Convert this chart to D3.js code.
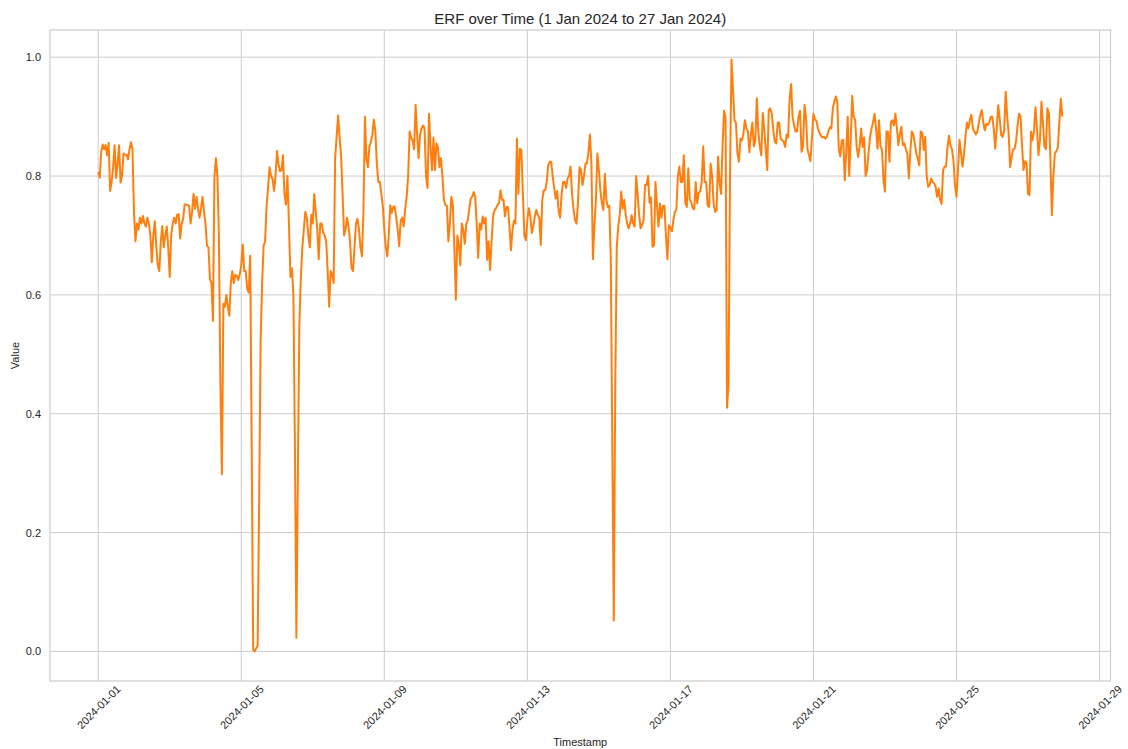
<!DOCTYPE html>
<html>
<head>
<meta charset="utf-8">
<script src="https://cdn.jsdelivr.net/npm/d3@7"></script>
<style>
  body { margin: 0; background: #fff; }
  svg { display: block; font-family: Arial, "Liberation Sans", sans-serif; }
  .gridline { stroke: #cccccc; stroke-width: 1; }
  .axis text { fill: #262626; font-size: 11px; }
</style>
</head>
<body>
<svg id="chart" width="1128" height="749"></svg>
<script>
// hourly ERF readings, one array per day (00:00 .. 23:00)
var day01 = [0.807, 0.797, 0.84, 0.853, 0.845, 0.852, 0.835, 0.856, 0.775, 0.79, 0.815, 0.852, 0.797, 0.82, 0.852, 0.789, 0.80, 0.838, 0.836, 0.836, 0.828, 0.845, 0.857, 0.845];
var day02 = [0.74, 0.69, 0.72, 0.71, 0.73, 0.72, 0.733, 0.72, 0.715, 0.73, 0.72, 0.70, 0.655, 0.70, 0.724, 0.68, 0.65, 0.64, 0.69, 0.716, 0.68, 0.70, 0.715, 0.68];
var day03 = [0.63, 0.70, 0.72, 0.73, 0.72, 0.735, 0.736, 0.695, 0.72, 0.728, 0.752, 0.752, 0.751, 0.75, 0.72, 0.74, 0.77, 0.745, 0.765, 0.745, 0.73, 0.745, 0.765, 0.74];
var day04 = [0.72, 0.683, 0.68, 0.626, 0.62, 0.556, 0.80, 0.83, 0.80, 0.70, 0.45, 0.298, 0.585, 0.58, 0.60, 0.58, 0.565, 0.62, 0.64, 0.62, 0.634, 0.632, 0.625, 0.635];
var day05 = [0.65, 0.685, 0.64, 0.64, 0.61, 0.604, 0.666, 0.35, 0.003, 0.0, 0.005, 0.01, 0.25, 0.52, 0.62, 0.682, 0.69, 0.75, 0.78, 0.815, 0.80, 0.795, 0.775, 0.80];
var day06 = [0.842, 0.82, 0.808, 0.81, 0.835, 0.77, 0.752, 0.80, 0.72, 0.63, 0.645, 0.6, 0.35, 0.023, 0.3, 0.55, 0.63, 0.68, 0.71, 0.74, 0.73, 0.70, 0.68, 0.735];
var day07 = [0.72, 0.77, 0.74, 0.71, 0.66, 0.72, 0.72, 0.705, 0.70, 0.69, 0.64, 0.58, 0.64, 0.635, 0.62, 0.83, 0.866, 0.902, 0.865, 0.835, 0.77, 0.70, 0.71, 0.73];
var day08 = [0.715, 0.69, 0.645, 0.64, 0.68, 0.72, 0.728, 0.71, 0.68, 0.665, 0.74, 0.90, 0.83, 0.815, 0.85, 0.857, 0.87, 0.895, 0.875, 0.82, 0.79, 0.79, 0.77, 0.75];
var day09 = [0.71, 0.68, 0.665, 0.70, 0.751, 0.738, 0.748, 0.749, 0.73, 0.71, 0.682, 0.725, 0.73, 0.715, 0.745, 0.765, 0.80, 0.875, 0.865, 0.86, 0.845, 0.92, 0.87, 0.83];
var day10 = [0.87, 0.88, 0.885, 0.88, 0.80, 0.78, 0.905, 0.85, 0.81, 0.865, 0.81, 0.855, 0.848, 0.815, 0.83, 0.80, 0.76, 0.751, 0.75, 0.69, 0.72, 0.765, 0.75, 0.68];
var day11 = [0.592, 0.70, 0.685, 0.65, 0.72, 0.71, 0.686, 0.72, 0.725, 0.745, 0.762, 0.765, 0.773, 0.765, 0.72, 0.662, 0.72, 0.71, 0.732, 0.72, 0.73, 0.659, 0.69, 0.642];
var day12 = [0.69, 0.732, 0.743, 0.746, 0.751, 0.755, 0.776, 0.76, 0.76, 0.732, 0.748, 0.748, 0.715, 0.675, 0.709, 0.725, 0.72, 0.863, 0.77, 0.846, 0.844, 0.77, 0.70, 0.692];
var day13 = [0.726, 0.746, 0.733, 0.704, 0.715, 0.732, 0.743, 0.735, 0.73, 0.684, 0.76, 0.776, 0.776, 0.79, 0.818, 0.824, 0.824, 0.80, 0.78, 0.762, 0.775, 0.74, 0.73, 0.77];
var day14 = [0.79, 0.79, 0.78, 0.796, 0.80, 0.816, 0.77, 0.743, 0.726, 0.72, 0.757, 0.815, 0.81, 0.785, 0.80, 0.821, 0.821, 0.84, 0.87, 0.82, 0.66, 0.715, 0.76, 0.838];
var day15 = [0.81, 0.776, 0.754, 0.743, 0.804, 0.76, 0.748, 0.75, 0.66, 0.35, 0.052, 0.45, 0.68, 0.715, 0.735, 0.774, 0.745, 0.76, 0.735, 0.72, 0.712, 0.72, 0.734, 0.72];
var day16 = [0.715, 0.80, 0.77, 0.735, 0.712, 0.717, 0.726, 0.785, 0.785, 0.80, 0.755, 0.764, 0.681, 0.683, 0.79, 0.75, 0.715, 0.754, 0.73, 0.75, 0.75, 0.70, 0.66, 0.717];
var day17 = [0.713, 0.707, 0.726, 0.74, 0.743, 0.80, 0.816, 0.79, 0.79, 0.835, 0.755, 0.748, 0.813, 0.76, 0.756, 0.746, 0.744, 0.79, 0.754, 0.772, 0.774, 0.79, 0.85, 0.79];
var day18 = [0.79, 0.75, 0.748, 0.821, 0.80, 0.754, 0.74, 0.742, 0.833, 0.788, 0.77, 0.85, 0.91, 0.90, 0.41, 0.45, 0.80, 0.996, 0.945, 0.894, 0.889, 0.838, 0.824, 0.863];
var day19 = [0.86, 0.871, 0.894, 0.88, 0.875, 0.84, 0.87, 0.89, 0.85, 0.86, 0.931, 0.875, 0.849, 0.835, 0.906, 0.878, 0.844, 0.81, 0.911, 0.914, 0.905, 0.878, 0.858, 0.855];
var day20 = [0.89, 0.89, 0.863, 0.86, 0.858, 0.849, 0.87, 0.865, 0.93, 0.955, 0.90, 0.885, 0.875, 0.875, 0.90, 0.91, 0.841, 0.85, 0.92, 0.90, 0.845, 0.835, 0.825, 0.865];
var day21 = [0.905, 0.895, 0.893, 0.88, 0.873, 0.868, 0.865, 0.866, 0.863, 0.866, 0.875, 0.882, 0.88, 0.914, 0.925, 0.934, 0.925, 0.845, 0.833, 0.86, 0.861, 0.793, 0.84, 0.90];
var day22 = [0.80, 0.86, 0.935, 0.90, 0.894, 0.85, 0.832, 0.85, 0.88, 0.849, 0.865, 0.80, 0.81, 0.84, 0.866, 0.88, 0.89, 0.905, 0.88, 0.846, 0.894, 0.85, 0.844, 0.793];
var day23 = [0.774, 0.875, 0.875, 0.824, 0.891, 0.894, 0.885, 0.905, 0.88, 0.852, 0.87, 0.883, 0.852, 0.855, 0.845, 0.838, 0.796, 0.84, 0.875, 0.87, 0.855, 0.838, 0.83, 0.818];
var day24 = [0.875, 0.873, 0.844, 0.866, 0.80, 0.782, 0.785, 0.796, 0.79, 0.788, 0.782, 0.765, 0.779, 0.76, 0.753, 0.81, 0.816, 0.816, 0.85, 0.868, 0.85, 0.845, 0.825, 0.785];
var day25 = [0.765, 0.81, 0.861, 0.84, 0.816, 0.835, 0.866, 0.89, 0.88, 0.895, 0.903, 0.88, 0.875, 0.87, 0.875, 0.89, 0.903, 0.911, 0.89, 0.877, 0.888, 0.886, 0.89, 0.9];
var day26 = [0.9, 0.88, 0.846, 0.88, 0.919, 0.897, 0.869, 0.866, 0.877, 0.942, 0.90, 0.872, 0.815, 0.832, 0.845, 0.846, 0.86, 0.885, 0.905, 0.90, 0.85, 0.81, 0.825, 0.822];
var day27 = [0.77, 0.768, 0.875, 0.86, 0.876, 0.916, 0.88, 0.835, 0.86, 0.925, 0.89, 0.85, 0.845, 0.914, 0.905, 0.83, 0.734, 0.80, 0.838, 0.842, 0.848, 0.89, 0.93, 0.90];

var startDate = '2024-01-01';
var xTickLabels = ['2024-01-01', '2024-01-05', '2024-01-09', '2024-01-13', '2024-01-17', '2024-01-21', '2024-01-25', '2024-01-29'];
var yTicks = [0.0, 0.2, 0.4, 0.6, 0.8, 1.0];

var erfValues = [].concat(day01, day02, day03, day04, day05, day06, day07, day08, day09,
  day10, day11, day12, day13, day14, day15, day16, day17, day18, day19, day20,
  day21, day22, day23, day24, day25, day26, day27);

var W = 1128, H = 749;
var margin = {top: 30, right: 17.5, bottom: 68, left: 50};

var parseDay = d3.timeParse('%Y-%m-%d');
var t0 = parseDay(startDate);
var points = erfValues.map(function(v, i) {
  return {t: d3.timeHour.offset(t0, i), v: v};
});

// matplotlib style 5% margins
var tExt = d3.extent(points, function(d) { return d.t; });
var tPad = (tExt[1] - tExt[0]) * 0.05;
var vExt = d3.extent(points, function(d) { return d.v; });
var vPad = (vExt[1] - vExt[0]) * 0.05;

var x = d3.scaleTime()
  .domain([new Date(+tExt[0] - tPad), new Date(+tExt[1] + tPad)])
  .range([margin.left, W - margin.right]);
var y = d3.scaleLinear()
  .domain([vExt[0] - vPad, vExt[1] + vPad])
  .range([H - margin.bottom, margin.top]);

var xTicks = xTickLabels.map(parseDay);
var svg = d3.select('#chart');

svg.append('rect')
  .attr('width', W).attr('height', H).attr('fill', '#fff');

// grid
svg.append('g').selectAll('line.gx')
  .data(xTicks)
  .enter().append('line')
    .attr('class', 'gridline')
    .attr('x1', function(d) { return x(d); })
    .attr('x2', function(d) { return x(d); })
    .attr('y1', margin.top)
    .attr('y2', H - margin.bottom);

svg.append('g').selectAll('line.gy')
  .data(yTicks)
  .enter().append('line')
    .attr('class', 'gridline')
    .attr('x1', margin.left)
    .attr('x2', W - margin.right)
    .attr('y1', function(d) { return y(d); })
    .attr('y2', function(d) { return y(d); });

// frame
svg.append('rect')
  .attr('x', margin.left).attr('y', margin.top)
  .attr('width', W - margin.left - margin.right)
  .attr('height', H - margin.top - margin.bottom)
  .attr('fill', 'none')
  .attr('stroke', '#cccccc')
  .attr('stroke-width', 1.2);

// axes
var xAxis = d3.axisBottom(x).tickValues(xTicks)
  .tickFormat(d3.timeFormat('%Y-%m-%d')).tickSize(0);
var gx = svg.append('g')
  .attr('class', 'axis')
  .attr('transform', 'translate(0,' + (H - margin.bottom) + ')')
  .call(xAxis);
gx.select('.domain').remove();
gx.selectAll('.tick text')
  .attr('y', null).attr('dy', null)
  .attr('text-anchor', 'middle')
  .attr('dominant-baseline', 'central')
  .attr('transform', 'translate(0,26) rotate(-45)');

var yAxis = d3.axisLeft(y).tickValues(yTicks)
  .tickFormat(d3.format('.1f')).tickSize(0).tickPadding(9);
var gy = svg.append('g')
  .attr('class', 'axis')
  .attr('transform', 'translate(' + margin.left + ',0)')
  .call(yAxis);
gy.select('.domain').remove();

// series
var line = d3.line()
  .x(function(d) { return x(d.t); })
  .y(function(d) { return y(d.v); });

svg.append('path')
  .datum(points)
  .attr('fill', 'none')
  .attr('stroke', '#ff7f0e')
  .attr('stroke-width', 2)
  .attr('stroke-linejoin', 'round')
  .attr('d', line);

// labels
svg.append('text')
  .attr('x', (margin.left + W - margin.right) / 2)
  .attr('y', 23.5)
  .attr('text-anchor', 'middle')
  .attr('fill', '#262626')
  .style('font-size', '15px')
  .text('ERF over Time (1 Jan 2024 to 27 Jan 2024)');

svg.append('text')
  .attr('x', (margin.left + W - margin.right) / 2)
  .attr('y', 746)
  .attr('text-anchor', 'middle')
  .attr('fill', '#262626')
  .style('font-size', '11px')
  .text('Timestamp');

svg.append('text')
  .attr('transform', 'translate(19,' + ((margin.top + H - margin.bottom) / 2) + ') rotate(-90)')
  .attr('text-anchor', 'middle')
  .attr('fill', '#262626')
  .style('font-size', '11px')
  .text('Value');
</script>
</body>
</html>
